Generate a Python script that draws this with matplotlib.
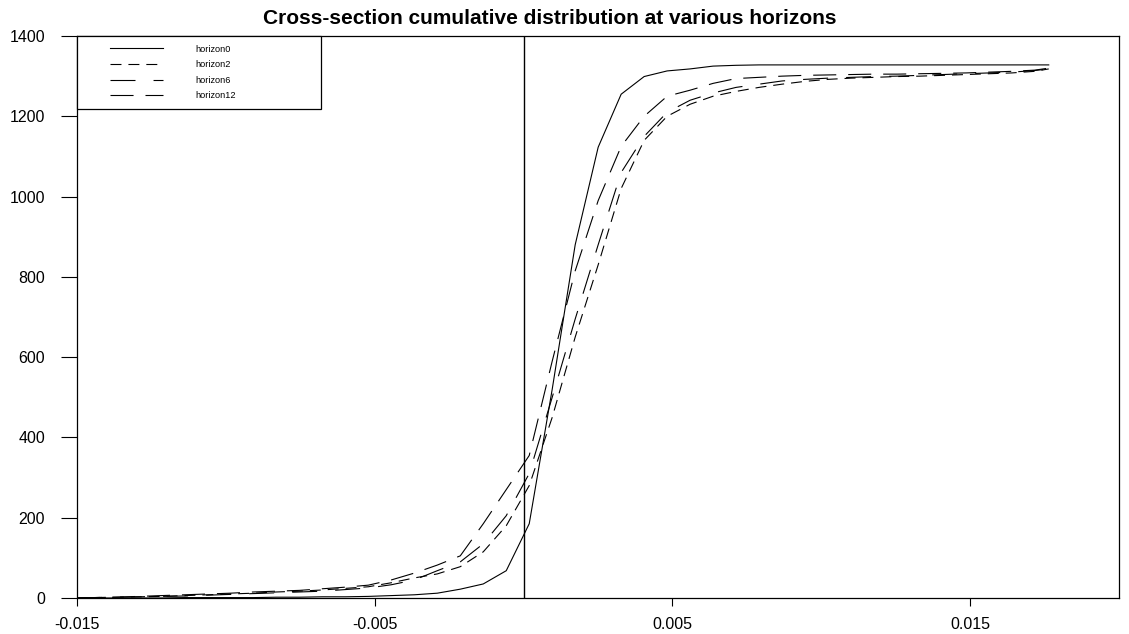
import matplotlib
matplotlib.use("Agg")
import matplotlib.pyplot as plt
from matplotlib.lines import Line2D
from matplotlib.legend_handler import HandlerLine2D

plt.rcParams['font.family'] = ['Liberation Sans', 'DejaVu Sans']
plt.rcParams['lines.scale_dashes'] = False

x = [-0.015, -0.014478, -0.013706, -0.012934, -0.012162, -0.01139, -0.010618,
     -0.009846, -0.009074, -0.008302, -0.00753, -0.006758, -0.005986, -0.005214,
     -0.004442, -0.00367, -0.002898, -0.002126, -0.001354, -0.000582, 0.00019,
     0.000962, 0.001734, 0.002506, 0.003278, 0.00405, 0.004822, 0.005594,
     0.006366, 0.007138, 0.00791, 0.008682, 0.009454, 0.010226, 0.010998,
     0.01177, 0.012542, 0.013314, 0.014086, 0.014858, 0.01563, 0.016402,
     0.017174, 0.01764]

horizon0 = [0, 0, 0, 0, 0, 1, 1, 1, 1, 2, 2, 3, 3, 4, 6, 8, 12, 22, 35, 68, 185,
            520, 880, 1123, 1255, 1299, 1313, 1318, 1325, 1327, 1328, 1328, 1328,
            1328, 1328, 1328, 1328, 1328, 1328, 1328, 1328, 1328, 1328, 1328]
horizon2 = [0, 1, 2, 3, 4, 6, 8, 10, 12, 15, 17, 20, 24, 28, 38, 50, 60, 78, 115,
            180, 280, 450, 650, 830, 1020, 1140, 1200, 1230, 1250, 1262, 1272,
            1280, 1287, 1292, 1295, 1297, 1299, 1300, 1302, 1304, 1306, 1308,
            1312, 1318]
horizon6 = [0, 1, 2, 3, 4, 5, 7, 9, 11, 13, 15, 17, 21, 25, 33, 45, 68, 90, 135,
            205, 310, 500, 695, 880, 1060, 1150, 1210, 1240, 1258, 1272, 1280,
            1288, 1292, 1295, 1297, 1299, 1300, 1302, 1304, 1306, 1308, 1310,
            1314, 1318]
horizon12 = [0, 1, 2, 4, 6, 8, 10, 12, 15, 17, 19, 23, 27, 32, 45, 62, 82, 105,
             185, 270, 355, 590, 815, 990, 1125, 1200, 1250, 1265, 1282, 1294,
             1297, 1300, 1302, 1303, 1304, 1305, 1305, 1306, 1307, 1308, 1310,
             1312, 1315, 1320]

series = [("horizon0", horizon0, None),
          ("horizon2", horizon2, (0, (7.9, 5.0))),
          ("horizon6", horizon6, (0, (18, 13))),
          ("horizon12", horizon12, (0, (16.6, 8.6)))]

xticks = [-0.015, -0.005, 0.005, 0.015]
xtick_labels = ["-0.015", "-0.005", "0.005", "0.015"]
yticks = [0, 200, 400, 600, 800, 1000, 1200, 1400]

fig = plt.figure(figsize=(11.29, 6.34), dpi=100)
ax = fig.add_axes([77/1129, 1-598/634, (1119-77)/1129, (598-36)/634])

for name, vals, dash in series:
    if dash is None:
        ax.plot(x, vals, color='black', lw=0.8, label=name)
    else:
        ax.plot(x, vals, color='black', lw=0.8, linestyle=dash, label=name)

ax.axvline(0, color='black', lw=1.0)

ax.set_xlim(-0.015, 0.020)
ax.set_ylim(0, 1400)
ax.set_xticks(xticks)
ax.set_xticklabels(xtick_labels)
ax.set_yticks(yticks)
ax.tick_params(axis='y', direction='out', length=11.5, width=0.8, pad=11.5, labelsize=11.5)
ax.tick_params(axis='x', direction='out', length=6, width=0.8, pad=8.0, labelsize=11.5)
for s in ax.spines.values():
    s.set_linewidth(0.9)
    s.set_color('black')

w = 244/1042
h = 72/562
fs = 6.6
leg = ax.legend(loc='upper left', bbox_to_anchor=(0, 1-h, w, h), mode='expand',
                borderaxespad=0, fancybox=False, framealpha=1, edgecolor='black',
                fontsize=fs, handlelength=8.44, handletextpad=3.49, borderpad=0.94,
                labelspacing=0.72,
                handler_map={Line2D: HandlerLine2D(xpad=2.66)})
leg.get_frame().set_linewidth(0.9)

fig.text(550/1129, 1-19/634, "Cross-section cumulative distribution at various horizons",
         ha='center', va='center', fontsize=15, fontweight='bold')

fig.savefig("out.png", dpi=100)
